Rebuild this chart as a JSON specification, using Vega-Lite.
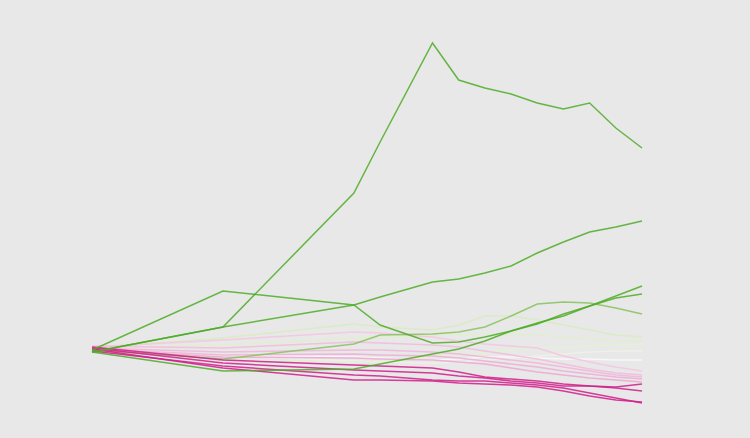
{
  "$schema": "https://vega.github.io/schema/vega-lite/v6.json",
  "width": 750,
  "height": 438,
  "autosize": {"type": "fit", "contains": "padding"},
  "padding": 0,
  "background": "#e8e8e8",
  "view": {"stroke": null},
  "data": {
    "values": [
      {"s": "W", "t": [0,5,10,11,13,14,15,16,17,18,19,20,21], "v": [0,-5,-7,-8,-10,-9,-7,-7,-8,-9,-9,-10,-10]},
      {"s": "PG4", "t": [0,5,10,11,13,14,15,16,17,18,19,20,21], "v": [0,-6,-11,-12,-13,-12,-10,-8,-6,-4,-2,-1,-1]},
      {"s": "PG3", "t": [0,5,10,11,13,14,15,16,17,18,19,20,21], "v": [-1,-10,-12,-11,-7,-5,-3,0,2,3,4,5,6]},
      {"s": "PG2", "t": [0,5,10,11,13,14,15,16,17,18,19,20,21], "v": [1,5,12,13,14,15,16,16,15,13,11,9,8]},
      {"s": "PG1", "t": [0,5,10,11,13,14,15,16,17,18,19,20,21], "v": [2,12,26,23,20,25,34,34,30,25,20,15,13]},
      {"s": "LP1", "t": [0,5,10,11,13,14,15,16,17,18,19,20,21], "v": [3,10,18,17,13,9,6,4,2,-6,-12,-17,-21]},
      {"s": "LP2", "t": [0,5,10,11,13,14,15,16,17,18,19,20,21], "v": [4,2,8,7,5,3,-1,-5,-9,-14,-19,-23,-25]},
      {"s": "LP3", "t": [0,5,10,11,13,14,15,16,17,18,19,20,21], "v": [2,-2,0,0,-2,-4,-7,-10,-13,-17,-21,-25,-27]},
      {"s": "LP4", "t": [0,5,10,11,13,14,15,16,17,18,19,20,21], "v": [1,-5,-4,-5,-6,-8,-11,-14,-17,-21,-24,-27,-29]},
      {"s": "LP5", "t": [0,5,10,11,13,14,15,16,17,18,19,20,21], "v": [0,-7,-8,-9,-10,-12,-14,-18,-22,-25,-28,-30,-32]},
      {"s": "G5", "t": [0,5,10,11,13,14,15,16,17,18,19,20,21], "v": [0,-9,6,15,16,18,23,34,46,48,47,42,36]},
      {"s": "S1", "t": [0,5,10,11,13,14,15,16,17,18,19,20,21], "v": [3,-10,-15,-16,-18,-22,-27,-29,-31,-34,-36,-37,-34]},
      {"s": "S2", "t": [0,5,10,11,13,14,15,16,17,18,19,20,21], "v": [2,-13,-20,-21,-23,-26,-28,-31,-33,-36,-36,-38,-41]},
      {"s": "S3", "t": [0,5,10,11,13,14,15,16,17,18,19,20,21], "v": [1,-18,-30,-30,-31,-33,-34,-35,-37,-41,-46,-50,-52]},
      {"s": "S4", "t": [0,5,10,11,13,14,15,16,17,18,19,20,21], "v": [-1,-16,-25,-26,-30,-31,-31,-33,-35,-38,-43,-48,-53]},
      {"s": "G4", "t": [0,5,10,11,13,14,15,16,17,18,19,20,21], "v": [-2,-21,-19,-14,-4,1,9,19,27,34,44,54,64]},
      {"s": "G3", "t": [0,5,10,11,13,14,15,16,17,18,19,20,21], "v": [0,59,45,25,7,8,13,19,26,36,44,52,56]},
      {"s": "G2", "t": [0,5,10,11,13,14,15,16,17,18,19,20,21], "v": [-2,23,45,53,68,71,77,84,97,108,118,123,129]},
      {"s": "G1", "t": [0,5,10,11,13,14,15,16,17,18,19,20,21], "v": [-2,23,157,208,307,270,262,256,247,241,247,222,202]}
    ]
  },
  "transform": [{"flatten": ["t", "v"]}],
  "mark": {"type": "line", "strokeWidth": 1.5, "strokeOpacity": 0.85},
  "encoding": {
    "x": {"field": "t", "type": "quantitative", "scale": {"domain": [-3.513, 25.123], "nice": false, "zero": false}, "axis": null},
    "y": {"field": "v", "type": "quantitative", "scale": {"domain": [-88, 350], "nice": false, "zero": false}, "axis": null},
    "detail": {"field": "s"},
    "color": {
      "field": "s",
      "type": "nominal",
      "legend": null,
      "sort": null,
      "scale": {
        "domain": ["W","PG4","PG3","PG2","PG1","LP1","LP2","LP3","LP4","LP5","G5","S1","S2","S3","S4","G4","G3","G2","G1"],
        "range": ["#f9f9f9","#eef2e6","#e4f1d3","#e0eecb","#d8ebc0","#f4c4e0","#f2badc","#f1b4d9","#efacd5","#eda4d1","#86c25a","#d01c8b","#d01c8b","#d01c8b","#d01c8b","#4dac26","#4dac26","#4dac26","#4dac26"]
      }
    }
  }
}
